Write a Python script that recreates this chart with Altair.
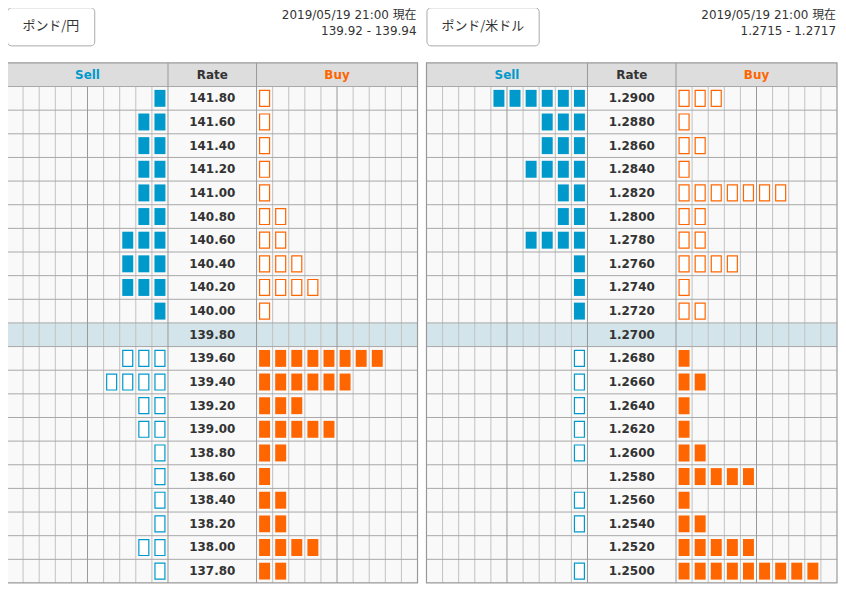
import altair as alt
import pandas as pd

# ---------------- data ----------------
jpy_rates = [141.80, 141.60, 141.40, 141.20, 141.00, 140.80, 140.60, 140.40, 140.20, 140.00,
             139.80, 139.60, 139.40, 139.20, 139.00, 138.80, 138.60, 138.40, 138.20, 138.00, 137.80]
jpy_sell = [1, 2, 2, 2, 2, 2, 3, 3, 3, 1, 0, 3, 4, 2, 2, 1, 1, 1, 1, 2, 1]
jpy_buy = [1, 1, 1, 1, 1, 2, 2, 3, 4, 1, 0, 8, 6, 3, 5, 2, 1, 2, 2, 4, 2]

usd_rates = [1.2900, 1.2880, 1.2860, 1.2840, 1.2820, 1.2800, 1.2780, 1.2760, 1.2740, 1.2720,
             1.2700, 1.2680, 1.2660, 1.2640, 1.2620, 1.2600, 1.2580, 1.2560, 1.2540, 1.2520, 1.2500]
usd_sell = [6, 3, 3, 4, 2, 2, 4, 1, 1, 1, 0, 1, 1, 1, 1, 1, 0, 1, 1, 0, 1]
usd_buy = [3, 1, 2, 1, 7, 2, 2, 4, 1, 2, 0, 1, 2, 1, 1, 2, 5, 1, 2, 5, 9]

pairs = ["ポンド/円", "ポンド/米ドル"]
stamps = ["2019/05/19 21:00 現在", "2019/05/19 21:00 現在"]
quotes = ["139.92 - 139.94", "1.2715 - 1.2717"]
headers = ["Sell", "Rate", "Buy"]
current_idx = 10

# ---------------- layout constants ----------------
N_SIDE = 10
RATE_W = 5.5
BUY0 = N_SIDE + RATE_W
TOTAL = 2 * N_SIDE + RATE_W
N_ROWS = len(jpy_rates)
Y_TOP = -3.362
PANEL_W = 412
PANEL_H = 578

BLUE = "#0099cc"
ORANGE = "#ff6600"
FONT = "DejaVu Sans, Noto Sans CJK JP"
FONT_JP = "Noto Sans CJK JP, DejaVu Sans"


def panel(pair, stamp, quote, rates, sell, buy, decimals, btn_w):
    xs = alt.Scale(domain=[0, TOTAL], nice=False, zero=False)
    ys = alt.Scale(domain=[Y_TOP, N_ROWS], nice=False, zero=False, reverse=True)

    def X(f):
        return alt.X(f, type="quantitative", scale=xs, axis=None)

    def Y(f):
        return alt.Y(f, type="quantitative", scale=ys, axis=None)

    bands = pd.DataFrame([
        dict(x=0, x2=TOTAL, y=0, y2=N_ROWS, c="#f9f9f9"),
        dict(x=0, x2=TOTAL, y=-1, y2=0, c="#dddddd"),
        dict(x=0, x2=TOTAL, y=current_idx, y2=current_idx + 1, c="#d3e5ea"),
    ])
    bg = alt.Chart(bands).mark_rect().encode(
        x=X("x"), x2="x2", y=Y("y"), y2="y2", color=alt.Color("c:N", scale=None))

    thin_x = [k for k in range(1, N_SIDE) if k != 5] + [BUY0 + k for k in range(1, N_SIDE) if k != 5]
    vthin = pd.DataFrame({"x": thin_x, "y": 0, "y2": N_ROWS})
    vthin_l = alt.Chart(vthin).mark_rule(color="#c2c2c2", strokeWidth=1).encode(
        x=X("x"), y=Y("y"), y2="y2")

    hl = pd.DataFrame({"y": list(range(0, N_ROWS)), "x": 0, "x2": TOTAL})
    hl_l = alt.Chart(hl).mark_rule(color="#a8a8a8", strokeWidth=1).encode(
        x=X("x"), x2="x2", y=Y("y"))

    vgrp = pd.DataFrame({"x": [5, BUY0 + 5, N_SIDE, BUY0], "y": [0, 0, -1, -1], "y2": N_ROWS})
    vgrp_l = alt.Chart(vgrp).mark_rule(color="#999999", strokeWidth=1).encode(
        x=X("x"), y=Y("y"), y2="y2")

    border = pd.DataFrame([dict(x=0, x2=TOTAL, y=-1, y2=N_ROWS)])
    border_l = alt.Chart(border).mark_rect(fillOpacity=0, stroke="#999999", strokeWidth=1.2).encode(
        x=X("x"), x2="x2", y=Y("y"), y2="y2")

    boxes = []
    for i in range(N_ROWS):
        for k in range(sell[i]):
            boxes.append(dict(x=N_SIDE - k - 0.5, y=i + 0.5, c=BLUE, filled=i < current_idx))
        for k in range(buy[i]):
            boxes.append(dict(x=BUY0 + k + 0.5, y=i + 0.5, c=ORANGE, filled=i > current_idx))
    bx = pd.DataFrame(boxes)
    filled_l = alt.Chart(bx[bx.filled]).mark_rect(width=11, height=17).encode(
        x=X("x"), y=Y("y"), color=alt.Color("c:N", scale=None))
    hollow_l = alt.Chart(bx[~bx.filled]).mark_rect(width=10, height=16, fill="white", strokeWidth=1.2).encode(
        x=X("x"), y=Y("y"), stroke=alt.Stroke("c:N", scale=None))

    lab = pd.DataFrame({"label": [f"{r:.{decimals}f}" for r in rates],
                        "y": [i + 0.5 for i in range(N_ROWS)], "x": N_SIDE + RATE_W / 2})
    lab_l = alt.Chart(lab).mark_text(font=FONT, fontSize=12, fontWeight="bold", color="#333333",
                                     baseline="middle", align="center").encode(
        x=X("x"), y=Y("y"), text="label:N")

    hd = pd.DataFrame({"t": headers, "x": [N_SIDE / 2, N_SIDE + RATE_W / 2, BUY0 + N_SIDE / 2],
                       "y": -0.5, "c": [BLUE, "#333333", ORANGE]})
    hd_l = alt.Chart(hd).mark_text(font=FONT, fontSize=12, fontWeight="bold",
                                   baseline="middle", align="center").encode(
        x=X("x"), y=Y("y"), text="t:N", color=alt.Color("c:N", scale=None))

    btn = pd.DataFrame([dict(x=0.03, x2=btn_w, y=Y_TOP + 0.03, y2=-1.72, xc=btn_w / 2, yc=-2.54, t=pair)])
    btn_l = alt.Chart(btn).mark_rect(fill="white", stroke="#aaaaaa", strokeWidth=1, cornerRadius=4).encode(
        x=X("x"), x2="x2", y=Y("y"), y2="y2")
    btn_t = alt.Chart(btn).mark_text(font=FONT_JP, fontSize=13, color="#333333",
                                     baseline="middle", align="center").encode(
        x=X("xc"), y=Y("yc"), text="t:N")

    st = pd.DataFrame({"t": [stamp, quote], "x": TOTAL, "y": [-3.025, -2.35]})
    st_l = alt.Chart(st).mark_text(font=FONT, fontSize=12, color="#333333", baseline="middle",
                                   align="right", dx=-1).encode(
        x=X("x"), y=Y("y"), text="t:N")

    return alt.layer(bg, vthin_l, hl_l, vgrp_l, border_l, filled_l, hollow_l, lab_l, hd_l,
                     btn_l, btn_t, st_l).properties(width=PANEL_W, height=PANEL_H)


left = panel(pairs[0], stamps[0], quotes[0], jpy_rates, jpy_sell, jpy_buy, 2, 5.45)
right = panel(pairs[1], stamps[1], quotes[1], usd_rates, usd_sell, usd_buy, 4, 7.0)

chart = alt.hconcat(
    left, right, spacing=7,
    padding={"left": -2, "top": -2, "right": 0, "bottom": 0},
).configure_view(strokeWidth=0)
chart.save("out.html", embed_options={"renderer": "svg", "actions": False})
